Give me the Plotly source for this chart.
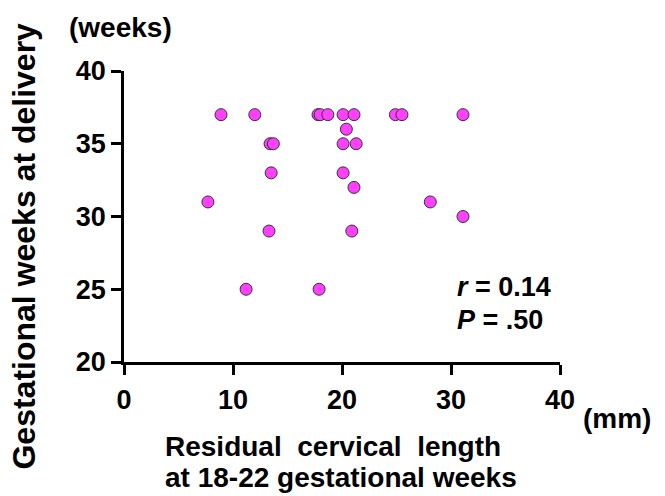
import plotly.graph_objects as go

# Residual cervical length (mm) and gestational weeks at delivery
cervical_length_mm = [8.9, 12.0, 17.8, 18.0, 18.7, 20.1, 21.1, 24.9, 25.5, 31.1,
                      20.4,
                      13.4, 13.7, 20.1, 21.3,
                      13.5, 20.1,
                      21.1,
                      7.7, 28.1,
                      31.1,
                      13.3, 20.9,
                      11.2, 17.9]
weeks_at_delivery = [37, 37, 37, 37, 37, 37, 37, 37, 37, 37,
                     36,
                     35, 35, 35, 35,
                     33, 33,
                     32,
                     31, 31,
                     30,
                     29, 29,
                     25, 25]

x_ticks = [0, 10, 20, 30, 40]
y_ticks = [20, 25, 30, 35, 40]

FONT = "Liberation Sans, Arial, sans-serif"

fig = go.Figure()
fig.add_trace(go.Scatter(
    x=cervical_length_mm, y=weeks_at_delivery, mode="markers",
    marker=dict(size=12, color="#FF40FF", line=dict(color="#333333", width=1)),
    cliponaxis=False, showlegend=False,
))

axis_common = dict(
    showline=True, linecolor="black", linewidth=2.5,
    ticks="outside", ticklen=10, tickwidth=2.5, tickcolor="black",
    showgrid=False, zeroline=False,
    tickfont=dict(family=FONT, size=27, color="black", weight="bold"),
)
fig.update_xaxes(range=[0, 40], tickvals=x_ticks, ticklabelstandoff=2, **axis_common)
fig.update_yaxes(range=[20, 40], tickvals=y_ticks, ticklabelstandoff=0, **axis_common)

def ann(text, x, y, size, xanchor="left", yanchor="middle", angle=0):
    fig.add_annotation(text=text, x=x, y=y, xref="paper", yref="paper",
                       xanchor=xanchor, yanchor=yanchor, showarrow=False,
                       textangle=angle,
                       font=dict(family=FONT, size=size, color="black", weight="bold"))

ann("(weeks)", -0.007, 1.148, 28, xanchor="center")
ann("Gestational weeks at delivery", -0.2295, 0.40, 32, xanchor="center", angle=-90)
ann("(mm)", 1.048, -0.193, 28)
ann("Residual  cervical  length", 0.0894, -0.292, 28)
ann("at 18-22 gestational weeks", 0.0894, -0.397, 28)
ann("<i>r</i> = 0.14", 0.759, 0.258, 27)
ann("<i>P</i> = .50", 0.759, 0.144, 27)

fig.update_layout(
    width=665, height=496,
    margin=dict(l=124, r=105, t=71, b=134),
    paper_bgcolor="white", plot_bgcolor="white",
)

fig.write_html("out.html", config={"displayModeBar": False},
               post_script="document.body.style.margin='0';")
